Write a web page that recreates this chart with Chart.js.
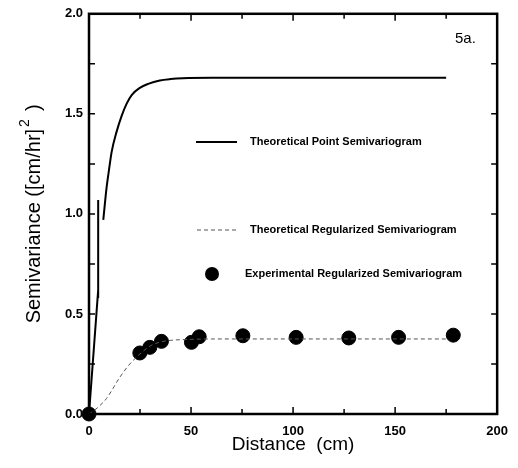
<!DOCTYPE html>
<html>
<head>
<meta charset="utf-8">
<script src="https://cdn.jsdelivr.net/npm/chart.js@4.4.0/dist/chart.umd.min.js"></script>
<style>
  html, body { margin: 0; padding: 0; background: #fff; }
  canvas { display: block; }
</style>
</head>
<body>
<canvas id="semiChart" width="518" height="468"></canvas>
<script>
// theoretical point semivariogram (solid), null = gap in the trace
var pointX = [0, 4.5, 4.5, 4.5, 4.5, 7, 7, 8.6, 9.8, 11.1, 13.5, 16, 18.4, 21, 24.9, 29, 34.7, 40, 46, 60, 100, 175];
var pointY = [0, 0.62, null, 0.58, 1.07, null, 0.97, 1.13, 1.22, 1.31, 1.41, 1.49, 1.55, 1.595, 1.63, 1.65, 1.667, 1.674, 1.678, 1.68, 1.68, 1.68];

// theoretical regularized semivariogram (dashed)
var regX = [0, 4, 8.6, 15.2, 20, 25, 30, 35, 40, 50, 60, 100, 176];
var regY = [0, 0.03, 0.078, 0.185, 0.25, 0.30, 0.34, 0.36, 0.368, 0.373, 0.375, 0.375, 0.375];

// experimental regularized semivariogram (dots)
var expX = [0, 24.9, 29.8, 35.5, 50.2, 54, 75.4, 101.5, 127.3, 151.7, 178.5];
var expY = [0, 0.305, 0.333, 0.363, 0.358, 0.386, 0.391, 0.383, 0.380, 0.383, 0.394];

var xTicks = [0, 50, 100, 150, 200];
var yTicks = [0.0, 0.5, 1.0, 1.5, 2.0];

var legendNames = ["Theoretical Point Semivariogram", "Theoretical Regularized Semivariogram", "Experimental Regularized Semivariogram"];

function pts(xs, ys) {
    return xs.map((x, i) => ({x: x, y: ys[i]}));
}

var FONT = "'Liberation Sans', Arial, Helvetica, sans-serif";

var framePlugin = {
    id: 'frame',
    afterDatasetsDraw(chart) {
        var ctx = chart.ctx;
        var a = chart.chartArea;
        var xs = chart.scales.x, ys = chart.scales.y;
        ctx.save();
        ctx.strokeStyle = '#000';
        // inward ticks
        ctx.lineWidth = 1.5;
        for (var v = 0; v <= 200; v += 25) {
            var px = xs.getPixelForValue(v);
            var len = (v % 50 == 0) ? 7 : 5;
            ctx.beginPath();
            ctx.moveTo(px, a.bottom); ctx.lineTo(px, a.bottom - len);
            ctx.moveTo(px, a.top); ctx.lineTo(px, a.top + len);
            ctx.stroke();
        }
        for (var w = 0; w <= 2.0001; w += 0.25) {
            var py = ys.getPixelForValue(w);
            ctx.beginPath();
            ctx.moveTo(a.left, py); ctx.lineTo(a.left + 6, py);
            ctx.moveTo(a.right, py); ctx.lineTo(a.right - 6, py);
            ctx.stroke();
        }
        // frame
        ctx.lineWidth = 2.5;
        ctx.strokeRect(a.left, a.top, a.right - a.left, a.bottom - a.top);
        ctx.restore();
    },
    afterDraw(chart) {
        var ctx = chart.ctx;
        var a = chart.chartArea;
        ctx.save();
        ctx.fillStyle = '#000';
        ctx.strokeStyle = '#000';

        // legend inside plot
        var lx0 = a.left + 107, lx1 = a.left + 148, tx = a.left + 161;
        ctx.font = 'bold 11px ' + FONT;
        ctx.textBaseline = 'middle';
        ctx.textAlign = 'left';

        ctx.lineWidth = 2;
        ctx.beginPath(); ctx.moveTo(lx0, 142); ctx.lineTo(lx1, 142); ctx.stroke();
        ctx.fillText(legendNames[0], tx, 142);

        ctx.lineWidth = 1;
        ctx.strokeStyle = '#555';
        ctx.setLineDash([4, 3]);
        ctx.beginPath(); ctx.moveTo(lx0 + 1, 230); ctx.lineTo(lx1, 230); ctx.stroke();
        ctx.setLineDash([]);
        ctx.fillText(legendNames[1], tx, 230);

        ctx.beginPath(); ctx.arc(212, 274, 7, 0, Math.PI * 2); ctx.fill();
        ctx.fillText(legendNames[2], tx - 5, 274);

        // panel tag
        ctx.font = '15px ' + FONT;
        ctx.textBaseline = 'alphabetic';
        ctx.fillText('5a.', 455, 43);

        // x title
        ctx.font = '19px ' + FONT;
        ctx.textAlign = 'center';
        ctx.fillText('Distance  (cm)', (a.left + a.right) / 2, 450);

        // y title with superscript
        var p1 = 'Semivariance ([cm/hr]', p2 = '2', p3 = ')';
        ctx.font = '20px ' + FONT;
        var w1 = ctx.measureText(p1).width, w3 = ctx.measureText(p3).width;
        ctx.font = '14px ' + FONT;
        var w2 = ctx.measureText(p2).width;
        var gapA = 2, gapB = 8;
        var total = w1 + gapA + w2 + gapB + w3;
        ctx.translate(40, (a.top + a.bottom) / 2);
        ctx.rotate(-Math.PI / 2);
        ctx.textAlign = 'left';
        var sx = -total / 2;
        ctx.font = '20px ' + FONT;
        ctx.fillText(p1, sx, 0);
        ctx.font = '14px ' + FONT;
        ctx.fillText(p2, sx + w1 + gapA, -11);
        ctx.font = '20px ' + FONT;
        ctx.fillText(p3, sx + w1 + gapA + w2 + gapB, 0);
        ctx.restore();
    }
};

var config = {
    type: 'scatter',
    data: {
        datasets: [{
            label: legendNames[0],
            data: pts(pointX, pointY),
            showLine: true,
            borderColor: '#000',
            borderWidth: 2,
            pointRadius: 0,
            cubicInterpolationMode: 'monotone',
            spanGaps: false,
            clip: false
        }, {
            label: legendNames[1],
            data: pts(regX, regY),
            showLine: true,
            borderColor: '#555',
            borderWidth: 1,
            borderDash: [4, 3],
            pointRadius: 0,
            cubicInterpolationMode: 'monotone',
            clip: false
        }, {
            label: legendNames[2],
            data: pts(expX, expY),
            showLine: false,
            backgroundColor: '#000',
            borderColor: '#000',
            pointRadius: 7,
            clip: false
        }]
    },
    options: {
        responsive: false,
        devicePixelRatio: 1,
        animation: false,
        layout: { padding: { top: 10, right: 20, left: 0, bottom: 0 } },
        plugins: { legend: { display: false }, tooltip: { enabled: false } },
        scales: {
            x: {
                type: 'linear', min: 0, max: 200,
                afterBuildTicks: s => { s.ticks = xTicks.map(v => ({value: v})); },
                afterFit: s => { s.height = 54; },
                grid: { display: false, drawTicks: false },
                border: { display: false },
                ticks: { color: '#000', padding: 10, maxRotation: 0, font: { family: FONT, size: 13, weight: 'bold' } }
            },
            y: {
                type: 'linear', min: 0, max: 2,
                afterBuildTicks: s => { s.ticks = yTicks.map(v => ({value: v})); },
                afterFit: s => { s.width = 89; },
                grid: { display: false, drawTicks: false },
                border: { display: false },
                ticks: { color: '#000', padding: 6, font: { family: FONT, size: 13, weight: 'bold' },
                         callback: v => v.toFixed(1) }
            }
        }
    },
    plugins: [framePlugin]
};

var semiChart = new Chart(document.getElementById('semiChart'), config);
</script>
</body>
</html>
